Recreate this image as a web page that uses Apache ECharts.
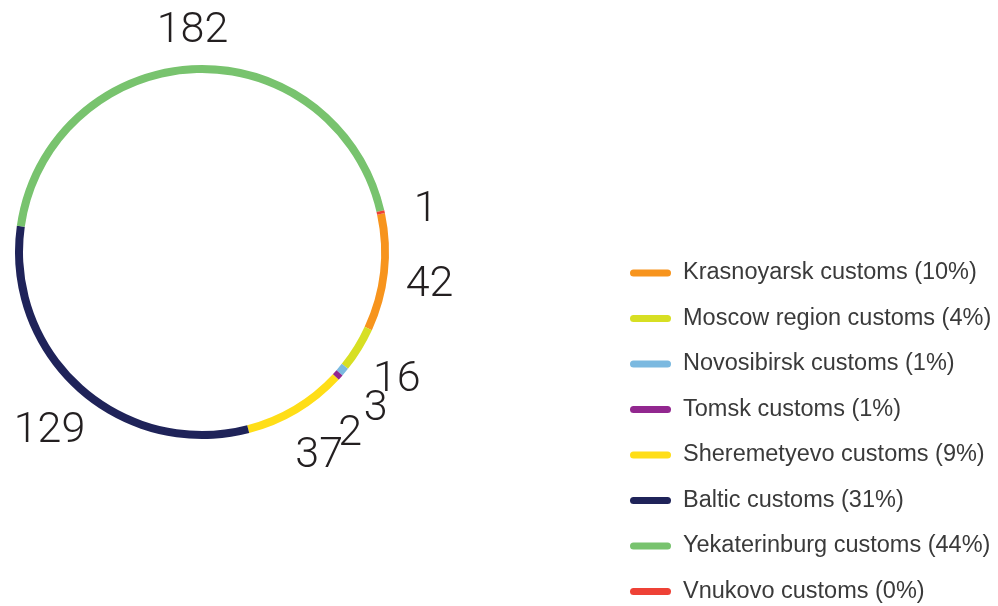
<!DOCTYPE html>
<html>
<head>
<meta charset="utf-8">
<script src="https://cdn.jsdelivr.net/npm/echarts@6/dist/echarts.min.js"></script>
<style>
  html, body { margin: 0; padding: 0; background: #ffffff; }
  #chart { width: 998px; height: 606px; }
</style>
</head>
<body>
<div id="chart"></div>
<script>
// Customs posts, case counts and their rounded shares
const categories = [
  'Krasnoyarsk customs',
  'Moscow region customs',
  'Novosibirsk customs',
  'Tomsk customs',
  'Sheremetyevo customs',
  'Baltic customs',
  'Yekaterinburg customs',
  'Vnukovo customs'
];
const values = [42, 16, 3, 2, 37, 129, 182, 1];
const shares = [10, 4, 1, 1, 9, 31, 44, 0];
const colors = ['#F7941D', '#D7DF23', '#7BB9E0', '#92278F', '#FFDE17', '#1F2359', '#78C36E', '#EE4136'];

const cx = 202, cy = 252;
const startAngle = 12;
const minLabelGap = 9; // degrees between neighbouring value labels

// mid angle of every slice, then pushed apart where labels would collide
const total = values.reduce((a, b) => a + b, 0);
const labelShift = [];
(function () {
  let acc = 0, prev = null;
  values.forEach((v, i) => {
    const mid = startAngle - (acc + v / 2) / total * 360;
    acc += v;
    let a = mid;
    if (prev !== null && prev - a < minLabelGap) a = prev - minLabelGap;
    labelShift[i] = a - mid;
    prev = a;
  });
})();

const chart = echarts.init(document.getElementById('chart'), null, { renderer: 'canvas' });

const ringData = categories.map((name, i) => ({
  name: name,
  value: values[i],
  itemStyle: { color: colors[i] }
}));
const labelData = categories.map((name, i) => ({ name: name, value: values[i] }));

// rounded bar used as legend marker
const legendIcon = 'path://M3.5,0L37.5,0A3.5,3.5,0,0,1,37.5,7L3.5,7A3.5,3.5,0,0,1,3.5,0Z';

const option = {
  animation: false,
  legend: {
    orient: 'vertical',
    left: 630,
    top: 261,
    padding: 0,
    itemWidth: 41,
    itemHeight: 7,
    itemGap: 21.5,
    icon: legendIcon,
    selectedMode: false,
    data: categories,
    formatter: name => name + ' (' + shares[categories.indexOf(name)] + '%)',
    textStyle: {
      fontFamily: 'Liberation Sans',
      fontSize: 23.5,
      color: '#3a3a3a',
      lineHeight: 24,
      padding: [0, 0, 0, 7]
    }
  },
  series: [
    {
      // thin ring
      type: 'pie',
      center: [cx, cy],
      radius: [179, 187],
      startAngle: startAngle,
      clockwise: true,
      silent: true,
      label: { show: false },
      labelLine: { show: false },
      data: ringData
    },
    {
      // invisible outer ring carrying the value labels
      type: 'pie',
      center: [cx, cy],
      radius: [216, 236],
      startAngle: startAngle,
      clockwise: true,
      silent: true,
      itemStyle: { color: 'rgba(0,0,0,0)' },
      label: {
        show: true,
        position: 'inside',
        formatter: '{c}',
        fontFamily: 'Roboto',
        fontWeight: 300,
        fontSize: 43,
        color: '#231f20'
      },
      labelLine: { show: false },
      labelLayout: p => {
        const r = p.labelRect;
        const x = r.x + r.width / 2 - cx, y = r.y + r.height / 2 - cy;
        const t = -labelShift[p.dataIndex] * Math.PI / 180;
        const c = Math.cos(t), s = Math.sin(t);
        return {
          x: cx + x * c - y * s,
          y: cy + x * s + y * c + 8,
          align: 'center',
          verticalAlign: 'middle'
        };
      },
      data: labelData
    }
  ]
};

chart.setOption(option);
</script>
</body>
</html>
